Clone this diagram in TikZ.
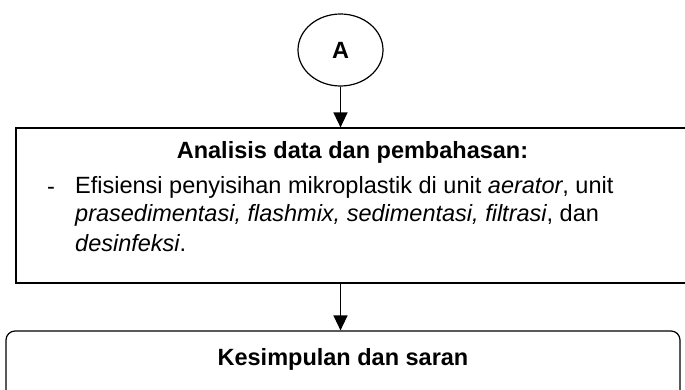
\documentclass[tikz,border=0pt]{standalone}
\usepackage{fontspec}
\setmainfont{Liberation Sans}
\usetikzlibrary{arrows.meta, positioning, shapes.geometric}

\tikzset{
  kotak/.style={draw, line width=1.2pt, inner sep=0pt},
  panah/.style={line width=1.4pt, -{Triangle[length=15pt, width=14pt]}},
  teks/.style={inner sep=0pt, font=\fontsize{23.5}{29}\selectfont}
}

\begin{document}
\begin{tikzpicture}[x=1pt, y=-1pt]
\useasboundingbox (0,0) rectangle (685,390);

% Connector A
\node[kotak, ellipse, minimum width=85pt, minimum height=72pt, teks, font=\fontsize{23.5}{29}\selectfont\bfseries] (A) at (340.5,50) {A};

% Analysis box
\node[kotak, minimum width=672pt, minimum height=155pt] (analisis) at (352,205.5) {};
\node[teks, font=\fontsize{23.5}{29}\selectfont\bfseries, anchor=base] (judul) at (352.5,159) {Analisis data dan pembahasan:};
\node[teks, anchor=base west] (strip) at (47,194) {-};
% base of a multi-line node = last line
\node[teks, anchor=base west, align=left] (butir) at (75,251)
  {Efisiensi penyisihan mikroplastik di unit \textit{aerator}, unit\\
   \textit{prasedimentasi, flashmix, sedimentasi, filtrasi}, dan\\
   \textit{desinfeksi}.};

% Conclusion box
\node[kotak, rounded corners=9pt, minimum width=674pt, minimum height=70pt] (kesimpulan) at (343,366) {};
\node[teks, font=\fontsize{23.5}{29}\selectfont\bfseries, anchor=base] (saran) at (343,365) {Kesimpulan dan saran};

% Arrows
\draw[panah] (A.south) -- (A.south |- analisis.north);
\draw[panah] (A |- analisis.south) -- (A |- kesimpulan.north);
\end{tikzpicture}
\end{document}
